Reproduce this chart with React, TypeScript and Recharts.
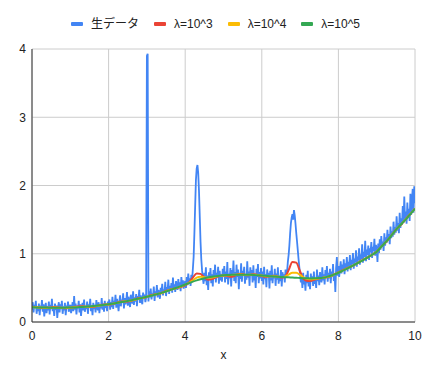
import React from 'react';
import { LineChart, Line, XAxis, YAxis, CartesianGrid, Legend } from 'recharts';

// Raw data: x from 0 to 10 every 0.02
const RAW_STEP = 0.02;
const rawValues = [
  // 0.00 - 0.98
  0.18, 0.29, 0.14, 0.25, 0.21, 0.31, 0.12, 0.22, 0.16, 0.27,
  0.10, 0.24, 0.19, 0.32, 0.15, 0.26, 0.08, 0.20, 0.28, 0.13,
  0.23, 0.17, 0.30, 0.11, 0.25, 0.19, 0.34, 0.16, 0.22, 0.09,
  0.27, 0.18, 0.24, 0.06, 0.21, 0.29, 0.14, 0.26, 0.19, 0.31,
  0.12, 0.23, 0.17, 0.28, 0.10, 0.24, 0.20, 0.30, 0.15, 0.22,
  // 1.00 - 1.98
  0.25, 0.13, 0.20, 0.29, 0.16, 0.38, 0.18, 0.27, 0.11, 0.24,
  0.20, 0.31, 0.14, 0.26, 0.09, 0.22, 0.28, 0.17, 0.33, 0.15,
  0.23, 0.19, 0.30, 0.12, 0.26, 0.21, 0.34, 0.16, 0.24, 0.10,
  0.28, 0.19, 0.25, 0.14, 0.32, 0.22, 0.17, 0.29, 0.13, 0.26,
  0.20, 0.35, 0.18, 0.27, 0.15, 0.31, 0.21, 0.25, 0.16, 0.30,
  // 2.00 - 2.98
  0.24, 0.33, 0.18, 0.29, 0.22, 0.37, 0.19, 0.31, 0.25, 0.40,
  0.21, 0.34, 0.27, 0.16, 0.30, 0.39, 0.23, 0.33, 0.28, 0.42,
  0.20, 0.35, 0.26, 0.31, 0.44, 0.24, 0.37, 0.29, 0.22, 0.40,
  0.32, 0.27, 0.45, 0.25, 0.36, 0.30, 0.41, 0.23, 0.38, 0.33,
  0.47, 0.28, 0.39, 0.31, 0.26, 0.43, 0.35, 0.40, 0.29, 0.36,
  // 3.00 - 3.98
  3.90, 3.93, 0.30, 0.45, 0.36, 0.49, 0.33, 0.42, 0.38, 0.52,
  0.31, 0.45, 0.40, 0.54, 0.36, 0.47, 0.43, 0.34, 0.50, 0.42,
  0.56, 0.39, 0.48, 0.44, 0.59, 0.38, 0.51, 0.46, 0.62, 0.41,
  0.53, 0.47, 0.57, 0.43, 0.65, 0.49, 0.55, 0.44, 0.60, 0.52,
  0.47, 0.63, 0.50, 0.58, 0.45, 0.66, 0.53, 0.61, 0.49, 0.57,
  // 4.00 - 4.98
  0.60, 0.50, 0.66, 0.54, 0.71, 0.57, 0.64, 0.53, 0.69, 0.61,
  0.78, 0.95, 1.30, 1.70, 2.08, 2.25, 2.30, 2.18, 1.92, 1.55,
  1.18, 0.92, 0.76, 0.64, 0.56, 0.72, 0.60, 0.80, 0.54, 0.68,
  0.47, 0.73, 0.62, 0.79, 0.57, 0.70, 0.52, 0.76, 0.63, 0.84,
  0.58, 0.72, 0.66, 0.81, 0.56, 0.75, 0.61, 0.70, 0.59, 0.78,
  // 5.00 - 5.98
  0.66, 0.82, 0.58, 0.74, 0.63, 0.88, 0.55, 0.71, 0.64, 0.79,
  0.52, 0.76, 0.67, 0.90, 0.60, 0.73, 0.57, 0.84, 0.66, 0.77,
  0.48, 0.72, 0.63, 0.86, 0.59, 0.75, 0.69, 0.81, 0.56, 0.70,
  0.62, 0.89, 0.65, 0.74, 0.53, 0.80, 0.68, 0.76, 0.58, 0.83,
  0.61, 0.71, 0.50, 0.78, 0.66, 0.85, 0.57, 0.73, 0.64, 0.79,
  // 6.00 - 6.98
  0.60, 0.74, 0.55, 0.81, 0.63, 0.70, 0.51, 0.77, 0.66, 0.72,
  0.49, 0.75, 0.61, 0.83, 0.57, 0.69, 0.64, 0.78, 0.53, 0.71,
  0.62, 0.80, 0.56, 0.68, 0.60, 0.76, 0.52, 0.73, 0.65, 0.70,
  0.58, 0.77, 0.66, 0.74, 0.88, 0.98, 1.12, 1.30, 1.45, 1.53,
  1.58, 1.50, 1.64, 1.56, 1.44, 1.30, 1.18, 1.05, 0.92, 0.80,
  // 7.00 - 7.98
  0.70, 0.58, 0.66, 0.50, 0.72, 0.55, 0.63, 0.46, 0.69, 0.57,
  0.75, 0.52, 0.64, 0.48, 0.71, 0.59, 0.67, 0.53, 0.74, 0.56,
  0.62, 0.50, 0.77, 0.60, 0.68, 0.54, 0.73, 0.63, 0.58, 0.80,
  0.61, 0.70, 0.55, 0.76, 0.65, 0.82, 0.59, 0.72, 0.64, 0.78,
  0.57, 0.74, 0.66, 0.85, 0.60, 0.71, 0.44, 0.79, 0.95, 0.68,
  // 8.00 - 8.98
  0.82, 0.66, 0.77, 0.89, 0.71, 0.84, 0.75, 0.92, 0.70, 0.86,
  0.79, 0.95, 0.74, 0.88, 0.82, 0.98, 0.76, 0.91, 0.85, 1.01,
  0.78, 0.93, 0.87, 1.05, 0.81, 0.96, 0.90, 1.08, 0.84, 0.99,
  0.92, 1.14, 0.87, 1.03, 0.95, 1.19, 0.89, 1.06, 0.98, 1.12,
  0.91, 1.08, 1.02, 1.17, 0.94, 1.10, 1.04, 1.22, 0.97, 1.13,
  // 9.00 - 10.00
  1.07, 0.88, 1.15, 1.01, 1.21, 1.06, 1.26, 1.10, 1.18, 1.04,
  1.30, 1.12, 1.24, 1.16, 1.35, 1.19, 1.29, 1.14, 1.40, 1.23,
  1.33, 1.25, 1.47, 1.28, 1.39, 1.31, 1.55, 1.34, 1.45, 1.30,
  1.60, 1.38, 1.52, 1.42, 1.70, 1.45, 1.84, 1.50, 1.62, 1.44,
  1.75, 1.52, 1.66, 1.48, 1.88, 1.57, 1.79, 1.95, 1.60, 1.99, 1.74,
];

// Smoothed series: x from 0 to 10 every 0.1
const SMOOTH_STEP = 0.1;
const lambda3Values = [
  0.225, 0.220, 0.212, 0.205, 0.207, 0.214, 0.218, 0.212, 0.204, 0.203, 0.210,
  0.220, 0.228, 0.230, 0.224, 0.218, 0.222, 0.236, 0.250, 0.256, 0.255,
  0.262, 0.280, 0.296, 0.302, 0.300, 0.312, 0.334, 0.350, 0.352, 0.368,
  0.392, 0.404, 0.410, 0.428, 0.455, 0.474, 0.488, 0.500, 0.515, 0.540,
  0.580, 0.650, 0.712, 0.705, 0.650, 0.618, 0.628, 0.655, 0.675, 0.682,
  0.675, 0.662, 0.680, 0.705, 0.702, 0.686, 0.690, 0.700, 0.688, 0.672,
  0.662, 0.670, 0.676, 0.668, 0.652, 0.660, 0.760, 0.880, 0.870, 0.740,
  0.625, 0.600, 0.605, 0.625, 0.640, 0.648, 0.655, 0.672, 0.700, 0.728,
  0.755, 0.782, 0.805, 0.830, 0.862, 0.898, 0.930, 0.958, 0.990, 1.032,
  1.092, 1.148, 1.205, 1.282, 1.352, 1.405, 1.468, 1.535, 1.598, 1.662,
];
const lambda4Values = [
  0.218, 0.216, 0.213, 0.210, 0.209, 0.210, 0.211, 0.210, 0.208, 0.208, 0.211,
  0.216, 0.220, 0.223, 0.224, 0.225, 0.229, 0.236, 0.244, 0.252, 0.258,
  0.266, 0.278, 0.290, 0.299, 0.306, 0.316, 0.330, 0.344, 0.356, 0.370,
  0.386, 0.400, 0.413, 0.428, 0.449, 0.468, 0.486, 0.504, 0.524, 0.548,
  0.574, 0.610, 0.650, 0.664, 0.655, 0.648, 0.652, 0.664, 0.676, 0.683,
  0.686, 0.688, 0.694, 0.697, 0.694, 0.690, 0.692, 0.694, 0.690, 0.680,
  0.672, 0.670, 0.670, 0.666, 0.660, 0.664, 0.695, 0.722, 0.720, 0.690,
  0.650, 0.630, 0.626, 0.632, 0.641, 0.649, 0.659, 0.675, 0.698, 0.724,
  0.750, 0.777, 0.804, 0.832, 0.862, 0.894, 0.927, 0.959, 0.993, 1.031,
  1.090, 1.150, 1.208, 1.280, 1.350, 1.408, 1.470, 1.532, 1.596, 1.660,
];
const lambda5Values = [
  0.215, 0.214, 0.213, 0.212, 0.211, 0.210, 0.210, 0.210, 0.210, 0.211, 0.212,
  0.214, 0.217, 0.220, 0.224, 0.228, 0.233, 0.239, 0.245, 0.252, 0.260,
  0.269, 0.278, 0.288, 0.298, 0.309, 0.320, 0.332, 0.344, 0.357, 0.370,
  0.384, 0.398, 0.413, 0.430, 0.448, 0.467, 0.487, 0.507, 0.528, 0.549,
  0.570, 0.591, 0.610, 0.627, 0.642, 0.654, 0.664, 0.672, 0.679, 0.684,
  0.688, 0.691, 0.693, 0.694, 0.694, 0.693, 0.691, 0.688, 0.685, 0.681,
  0.677, 0.672, 0.668, 0.664, 0.660, 0.657, 0.654, 0.651, 0.648, 0.645,
  0.642, 0.640, 0.639, 0.640, 0.643, 0.650, 0.661, 0.677, 0.698, 0.722,
  0.748, 0.775, 0.803, 0.832, 0.862, 0.893, 0.925, 0.958, 0.993, 1.030,
  1.090, 1.150, 1.210, 1.280, 1.350, 1.410, 1.470, 1.530, 1.595, 1.660,
];

const xTicks = [0, 2, 4, 6, 8, 10];
const yTicks = [0, 1, 2, 3, 4];
const seriesNames = ['生データ', 'λ=10^3', 'λ=10^4', 'λ=10^5'];
const seriesColors = ['#4285F4', '#EA4335', '#FBBC04', '#34A853'];
const xAxisTitle = 'x';

const rawData = rawValues.map((y, i) => ({ x: Math.round(i * RAW_STEP * 100) / 100, y }));
const toSmooth = (arr: number[]) => arr.map((y, i) => ({ x: Math.round(i * SMOOTH_STEP * 10) / 10, y }));
const l3Data = toSmooth(lambda3Values);
const l4Data = toSmooth(lambda4Values);
const l5Data = toSmooth(lambda5Values);

const FONT = '"Liberation Sans", Arial, "Noto Sans CJK JP", sans-serif';

const renderLegend = () => (
  <div
    style={{
      height: 35,
      display: 'flex',
      alignItems: 'flex-start',
      paddingLeft: 71,
      boxSizing: 'border-box',
      fontFamily: FONT,
      fontSize: 12,
      color: '#222',
    }}
  >
    {seriesNames.map((name, i) => (
      <div key={name} style={{ display: 'flex', alignItems: 'center', height: 20, marginRight: 15 }}>
        <span
          style={{
            display: 'inline-block',
            width: 12,
            height: 4,
            borderRadius: 1,
            background: seriesColors[i],
            marginRight: 8,
          }}
        />
        <span style={{ lineHeight: '20px', whiteSpace: 'nowrap' }}>{name}</span>
      </div>
    ))}
  </div>
);

export default function App() {
  const tickStyle = { fill: '#222', fontSize: 12, fontFamily: FONT };
  return (
    <div style={{ position: 'absolute', left: 0, top: 0, width: 429, height: 371, background: '#fff' }}>
      <LineChart width={429} height={371} margin={{ top: 14, right: 14, bottom: 7, left: 0 }}>
        <CartesianGrid stroke="#cccccc" strokeWidth={1} />
        <Legend verticalAlign="top" align="left" content={renderLegend} />
        <XAxis
          type="number"
          dataKey="x"
          domain={[0, 10]}
          ticks={xTicks}
          allowDataOverflow
          height={42}
          tickLine={false}
          tickSize={6}
          tickMargin={3.5}
          axisLine={{ stroke: '#333', strokeWidth: 1 }}
          tick={tickStyle}
          label={{ value: xAxisTitle, position: 'insideBottom', offset: 5, fill: '#222', fontSize: 12, fontFamily: FONT }}
        />
        <YAxis
          type="number"
          domain={[0, 4]}
          ticks={yTicks}
          allowDataOverflow
          width={32}
          tickLine={false}
          tickSize={4}
          tickMargin={2}
          axisLine={{ stroke: '#333', strokeWidth: 1 }}
          tick={tickStyle}
        />
        <Line data={rawData} dataKey="y" name={seriesNames[0]} type="linear" stroke={seriesColors[0]} strokeWidth={1.8} dot={false} activeDot={false} isAnimationActive={false} />
        <Line data={l3Data} dataKey="y" name={seriesNames[1]} type="monotone" stroke={seriesColors[1]} strokeWidth={2} dot={false} activeDot={false} isAnimationActive={false} />
        <Line data={l4Data} dataKey="y" name={seriesNames[2]} type="monotone" stroke={seriesColors[2]} strokeWidth={2} dot={false} activeDot={false} isAnimationActive={false} />
        <Line data={l5Data} dataKey="y" name={seriesNames[3]} type="monotone" stroke={seriesColors[3]} strokeWidth={2} dot={false} activeDot={false} isAnimationActive={false} />
      </LineChart>
    </div>
  );
}
